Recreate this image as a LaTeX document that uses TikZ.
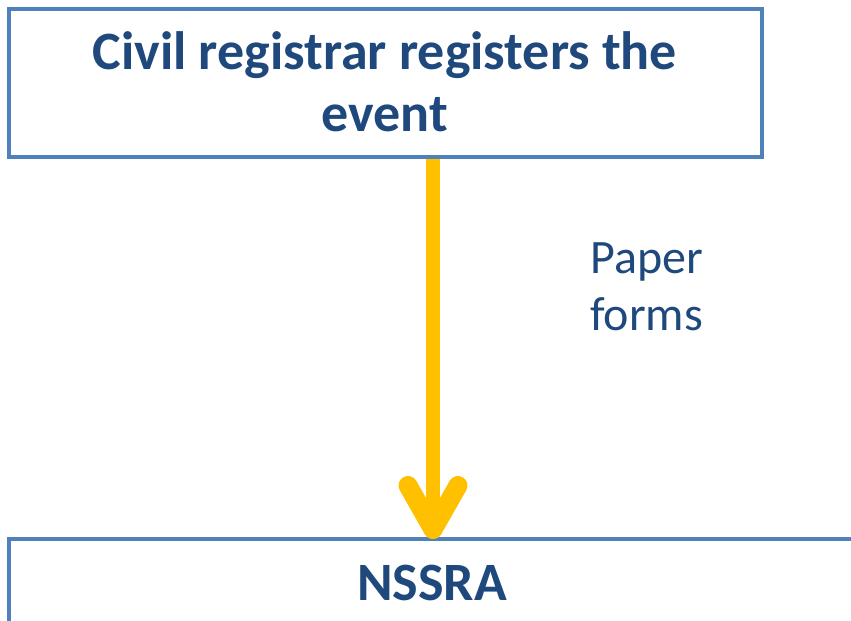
\documentclass[tikz,border=0pt]{standalone}
\usepackage{fontspec}
\setmainfont{Carlito}
\usetikzlibrary{arrows.meta}
\definecolor{boxblue}{HTML}{4F81BD}
\definecolor{txtblue}{HTML}{1F497D}
\definecolor{arrowgold}{HTML}{FFC000}
\tikzset{
  box/.style={draw=boxblue, line width=3.5bp, rectangle, inner sep=0pt, fill=white},
  boxtext/.style={text=txtblue, font=\fontsize{54bp}{62bp}\selectfont\bfseries, align=center},
  labeltext/.style={text=txtblue, font=\fontsize{48bp}{57bp}\selectfont, align=left},
  flowarrow/.style={draw=arrowgold, line width=14bp, -{Straight Barb[length=44bp, width=50bp, line width=19bp, round]}}
}
\begin{document}
\begin{tikzpicture}[x=1bp,y=-1bp]
\useasboundingbox (0,0) rectangle (851,621);
\begin{scope}
\clip (0,0) rectangle (851,621);
\node[box, minimum width=753bp, minimum height=148bp] (top) at (385.5,83) {};
\node[box, minimum width=860bp, minimum height=150bp] (bot) at (439,614) {};
\end{scope}
\node[boxtext, anchor=base] (toptext) at (385,132) {Civil registrar registers the\\event};
\node[boxtext, anchor=base] (bottext) at (432,600) {NSSRA};
\node[labeltext, anchor=base west, inner sep=0pt] (paper) at (590,330) {Paper\\forms};
\coordinate (astart) at (433,159);
\coordinate (aend) at (433,539);
\draw[flowarrow] (astart) -- (aend);
\end{tikzpicture}
\end{document}
